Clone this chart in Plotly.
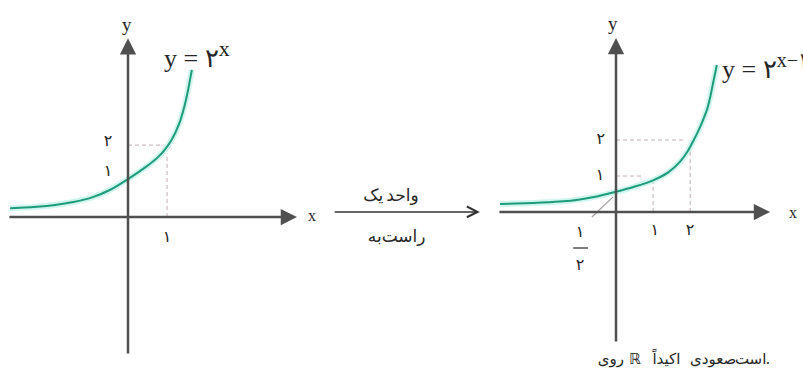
import plotly.graph_objects as go

# ---------------- data ----------------
# left panel: y = 2^x  (units: one tick = 1)
left_curve_x = [-3.23, -2.5, -2.0, -1.5, -1.0, -0.5, 0.0, 0.5, 0.8, 1.0, 1.2, 1.4, 1.55, 1.65, 1.75]
left_curve_y = [0.24, 0.28, 0.33, 0.41, 0.53, 0.74, 1.04, 1.38, 1.62, 1.83, 2.12, 2.55, 3.05, 3.5, 4.03]
left_axis_x = [-3.29, 4.63]          # tail, tip of x axis
left_axis_y = [-3.78, 4.90]          # tail, tip of y axis
left_guides = [  # (x0, y0, x1, y1) dashed guide segments
    (0.0, 1.97, 0.95, 1.97),
    (1.07, 0.0, 1.07, 1.75),
]
left_tick_text = ["۲", "۱", "۱"]
left_tick_x = [-0.55, -0.55, 1.07]
left_tick_y = [2.05, 1.23, -0.58]

# right panel: y = 2^(x-1)
right_curve_x = [-3.22, -2.3, -1.56, -1.0, -0.5, 0.0, 0.5, 1.03, 1.45, 1.78, 2.0, 2.14, 2.3, 2.42, 2.53, 2.62, 2.69, 2.8]
right_curve_y = [0.22, 0.25, 0.29, 0.35, 0.44, 0.56, 0.70, 0.88, 1.10, 1.40, 1.70, 1.96, 2.28, 2.56, 2.85, 3.2, 3.55, 4.08]
right_axis_x = [-3.28, 4.28]
right_axis_y = [-3.64, 4.83]
right_guides = [
    (0.0, 1.0, 0.75, 1.0),
    (1.03, 0.0, 1.03, 0.82),
    (0.0, 2.0, 1.9, 2.0),
    (2.06, 0.0, 2.06, 1.75),
]
right_tick_text = ["۲", "۱", "۱", "۲", "۱", "۲"]      # last two: the fraction 1/2
right_tick_x = [-0.42, -0.44, 1.08, 2.06, -1.0, -1.0]
right_tick_y = [2.0, 1.0, -0.53, -0.53, -0.58, -1.5]
tangent_x = [-0.67, -0.08]
tangent_y = [-0.14, 0.42]
half_bar_x, half_bar_y = [-1.19, -0.78], -1.0

# shift arrow (left-panel units); words laid out left to right as in the picture
shift_x = [5.62, 9.64]
shift_y = 0.14
shift_words = ["یک", "واحد", "به", "راست"]
shift_word_x = [6.72, 7.52, 6.76, 7.55]
shift_word_y = [0.55, 0.55, -0.58, -0.58]

# caption words (right-panel units), left to right as in the picture
caption_words = ["روی", "ℝ", "اکیداً", "صعودی", "است", "."]
caption_x = [-0.14, 0.53, 1.40, 2.70, 3.74, 4.22]
caption_y = -4.12

CURVE = "#1f9a7a"
GLOW = "rgba(150,235,220,0.45)"
AXIS = "#505050"
GUIDE = "#c2aeb2"
TXT = "#262626"
SERIF = "Liberation Serif, DejaVu Serif, serif"
SANS = "DejaVu Sans, Noto Sans, sans-serif"

fig = go.Figure()

def panel(cx, cy, guides, xa, ya):
    for (x0, y0, x1, y1) in guides:
        fig.add_trace(go.Scatter(x=[x0, x1], y=[y0, y1], mode="lines",
                                 line=dict(color=GUIDE, width=1, dash="4px,3px"),
                                 xaxis=xa, yaxis=ya, hoverinfo="skip"))
    fig.add_trace(go.Scatter(x=cx, y=cy, mode="lines", line=dict(color=GLOW, width=6, shape="spline", smoothing=0.6),
                             xaxis=xa, yaxis=ya, hoverinfo="skip"))
    fig.add_trace(go.Scatter(x=cx, y=cy, mode="lines", line=dict(color=CURVE, width=2, shape="spline", smoothing=0.6),
                             xaxis=xa, yaxis=ya, hoverinfo="skip"))

def text_trace(texts, xs, ys, xa, ya, size, family=SANS):
    fig.add_trace(go.Scatter(x=xs, y=ys, mode="text", text=texts, textposition="middle center",
                             textfont=dict(family=family, size=size, color=TXT),
                             xaxis=xa, yaxis=ya, hoverinfo="skip"))

panel(left_curve_x, left_curve_y, left_guides, "x", "y")
panel(right_curve_x, right_curve_y, right_guides, "x2", "y2")

fig.add_trace(go.Scatter(x=tangent_x, y=tangent_y, mode="lines",
                         line=dict(color="#a8a0a0", width=1.3), xaxis="x2", yaxis="y2", hoverinfo="skip"))
fig.add_trace(go.Scatter(x=half_bar_x, y=[half_bar_y] * 2, mode="lines",
                         line=dict(color=TXT, width=1.2), xaxis="x2", yaxis="y2", hoverinfo="skip"))

text_trace(left_tick_text, left_tick_x, left_tick_y, "x", "y", 16)
text_trace(right_tick_text, right_tick_x, right_tick_y, "x2", "y2", 16)
text_trace(shift_words, shift_word_x, shift_word_y, "x", "y", 17)
text_trace(caption_words, caption_x, [caption_y] * len(caption_words), "x2", "y2", 15)

ann = []

def axis_arrows(ax_x, ax_y, xr, yr):
    ann.append(dict(x=ax_x[1], y=0, ax=ax_x[0], ay=0, xref=xr, yref=yr, axref=xr, ayref=yr,
                    showarrow=True, arrowhead=2, arrowwidth=2.5, arrowsize=1.3, arrowcolor=AXIS, text=""))
    ann.append(dict(x=0, y=ax_y[1], ax=0, ay=ax_y[0], xref=xr, yref=yr, axref=xr, ayref=yr,
                    showarrow=True, arrowhead=2, arrowwidth=2.5, arrowsize=1.3, arrowcolor=AXIS, text=""))

axis_arrows(left_axis_x, left_axis_y, "x", "y")
axis_arrows(right_axis_x, right_axis_y, "x2", "y2")

def txt(t, x, y, xr, yr, size=15, font=SERIF, xanchor="center"):
    ann.append(dict(x=x, y=y, xref=xr, yref=yr, text=t, showarrow=False, xanchor=xanchor,
                    yanchor="middle", font=dict(family=font, size=size, color=TXT)))

SUPX = "<sup><span style='font-size:22px'>x</span></sup>"
SUPX1 = "<sup><span style='font-size:20px'>x−۱</span></sup>"

txt("y", -0.03, 5.28, "x", "y", 19)
txt("x", 5.04, 0.03, "x", "y", 16)
txt("y = ۲" + SUPX, 0.92, 4.45, "x", "y", 26, xanchor="left")
txt("y", -0.08, 5.24, "x2", "y2", 19)
txt("x", 4.92, 0.0, "x2", "y2", 16)
txt("y = ۲" + SUPX1, 2.89, 4.05, "x2", "y2", 26, xanchor="left")

# shift arrow
ann.append(dict(x=shift_x[1], y=shift_y, ax=shift_x[0], ay=shift_y, xref="x", yref="y", axref="x", ayref="y",
                showarrow=True, arrowhead=5, arrowwidth=1.5, arrowsize=1.4, arrowcolor="#333333", text=""))

U_L, U_R = 36.5, 36.0
fig.update_layout(
    width=803, height=380, margin=dict(l=0, r=0, t=0, b=0),
    paper_bgcolor="white", plot_bgcolor="white", showlegend=False,
    xaxis=dict(range=[-128 / U_L, (803 - 128) / U_L], visible=False, domain=[0, 1]),
    yaxis=dict(range=[(217 - 380) / U_L, 217 / U_L], visible=False, domain=[0, 1]),
    xaxis2=dict(range=[-616 / U_R, (803 - 616) / U_R], visible=False, overlaying="x", anchor="y2"),
    yaxis2=dict(range=[(212 - 380) / U_R, 212 / U_R], visible=False, overlaying="y", anchor="x2"),
    annotations=ann,
)
fig.write_html("out.html", config={"displayModeBar": False},
               post_script="document.body.style.margin='0';document.body.style.overflow='hidden';")
